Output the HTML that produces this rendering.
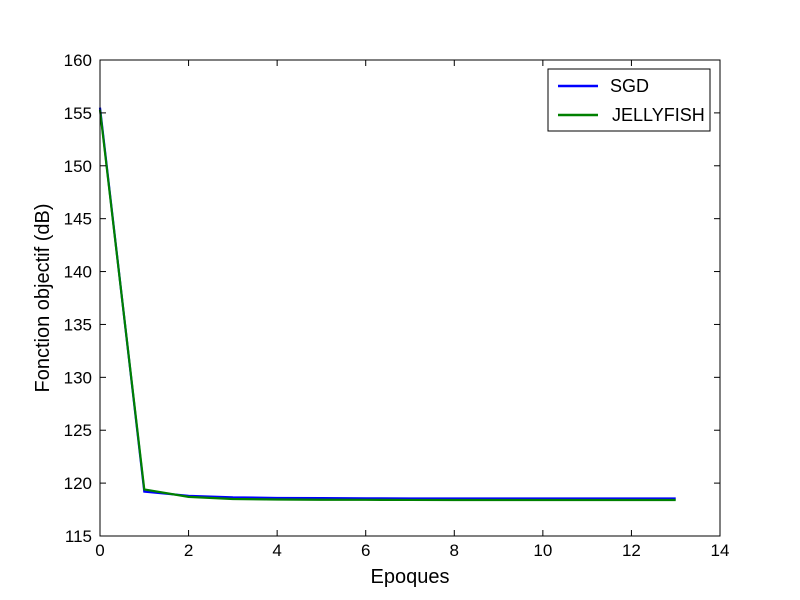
<!DOCTYPE html>
<html><head><meta charset="utf-8"><style>
body{margin:0;background:#fff;}
svg text{font-family:"Liberation Sans","DejaVu Sans",sans-serif;}
</style></head><body>
<svg id="chart" width="800" height="595">
<rect width="800" height="595" fill="#fff"/>
<g id="plot"></g>
</svg>
<script>
const epochs=[0,1,2,3,4,5,6,7,8,9,10,11,12,13];
const sgdValues=[155.5,119.2,118.8,118.65,118.6,118.58,118.56,118.55,118.55,118.55,118.55,118.55,118.55,118.55];
const jellyValues=[155.3,119.4,118.7,118.5,118.45,118.43,118.42,118.41,118.4,118.4,118.4,118.4,118.4,118.4];
const xTicks=[0,2,4,6,8,10,12,14];
const yTicks=[115,120,125,130,135,140,145,150,155,160];
const L=100,R=720,T=60,B=536;
const sx=v=>L+(v-0)/(14-0)*(R-L);
const sy=v=>B-(v-115)/(160-115)*(B-T);
const NS='http://www.w3.org/2000/svg';
const g=document.getElementById('plot');
function mk(tag,attrs,parent){const e=document.createElementNS(NS,tag);for(const k in attrs)e.setAttribute(k,attrs[k]);(parent||g).appendChild(e);return e;}
function line(data,color,name){
  const p=mk('polyline',{points:data.map((v,i)=>sx(epochs[i])+','+sy(v)).join(' '),fill:'none',stroke:color,'stroke-width':2.2,'stroke-linejoin':'miter'});
  
  
}
line(sgdValues,'#0000ff','sgd-line');
line(jellyValues,'#008000','jellyfish-line');
xTicks.forEach(t=>{
  const x=sx(t);
  mk('line',{x1:x,x2:x,y1:B,y2:B-6,stroke:'#000'});
  mk('line',{x1:x,x2:x,y1:T,y2:T+6,stroke:'#000'});
  const tx=mk('text',{x:x,y:B+20,'text-anchor':'middle','font-size':17});
  tx.textContent=t;
  
  
});
yTicks.forEach(t=>{
  const y=sy(t);
  mk('line',{x1:L,x2:L+6,y1:y,y2:y,stroke:'#000'});
  mk('line',{x1:R,x2:R-6,y1:y,y2:y,stroke:'#000'});
  const tx=mk('text',{x:L-8,y:y+6,'text-anchor':'end','font-size':17});
  tx.textContent=t;
  
  
});
const fr=mk('rect',{x:L,y:T,width:R-L,height:B-T,fill:'none',stroke:'#000','stroke-width':1});


const xt=mk('text',{x:(L+R)/2,y:583,'text-anchor':'middle','font-size':20});
xt.textContent='Epoques';


const yt=mk('text',{x:0,y:0,'text-anchor':'middle','font-size':20,transform:'translate(49,298) rotate(-90)'});
yt.textContent='Fonction objectif (dB)';


const lg=mk('g',{});


mk('rect',{x:548,y:69,width:162,height:62,fill:'#fff',stroke:'#000'},lg);
mk('line',{x1:558,x2:598,y1:86,y2:86,stroke:'#0000ff','stroke-width':2.5},lg);
mk('line',{x1:558,x2:598,y1:115,y2:115,stroke:'#008000','stroke-width':2.5},lg);
const l1=mk('text',{x:610,y:92,'font-size':18},lg);l1.textContent='SGD';


const l2=mk('text',{x:612,y:121,'font-size':18},lg);l2.textContent='JELLYFISH';


</script>
</body></html>
